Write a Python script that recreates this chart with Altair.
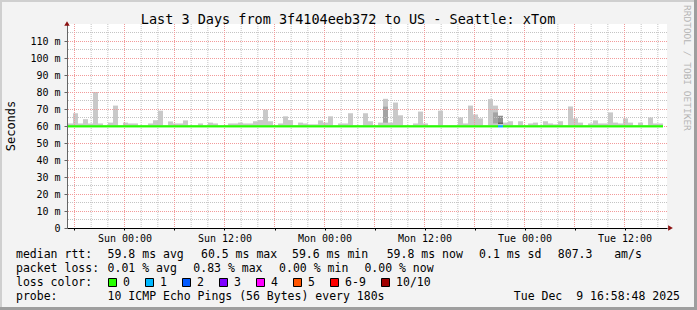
import json
import altair as alt
import pandas as pd

# ------------------------------------------------------------------ data
TITLE = "Last 3 Days from 3f4104eeb372 to US - Seattle: xTom"
Y_TITLE = "Seconds"
WATERMARK = "RRDTOOL / TOBI OETIKER"

X_LABELS = ["Sun 00:00", "Sun 12:00", "Mon 00:00", "Mon 12:00", "Tue 00:00", "Tue 12:00"]
X_TICK_HOURS = [18, 24, 30, 36, 42, 48, 54, 60, 66, 72, 78, 84]   # hours since Sat 00:00
Y_TICKS = [0, 10, 20, 30, 40, 50, 60, 70, 80, 90, 100, 110]        # ms

V_GRID_MINOR = list(range(18, 89, 2))
V_GRID_MAJOR = list(range(18, 89, 6))
H_GRID_MINOR = [5, 15, 25, 35, 45, 55, 65, 75, 85, 95, 105, 115]
H_GRID_MAJOR = [10, 20, 30, 40, 50, 60, 70, 80, 90, 100, 110]

START_HOUR = 17.22      # first 36-minute column (Sat ~17:13)
STEP_HOURS = 0.6

# top of the light smoke (max rtt, ms) of each column, read left to right
SMOKE_TOP = [
    61.5, 67.5, 61.5, 64.0, 61.5, 80.0, 61.5, 60.5, 62.0, 72.0,
    60.5, 62.0, 61.5, 61.5, 60.5, 60.5, 61.5, 63.4, 69.0, 60.5,
    62.7, 61.5, 61.5, 63.3, 60.5, 60.5, 61.5, 60.5, 62.0, 61.5,
    60.5, 60.5, 61.5, 61.5, 62.0, 61.5, 61.5, 62.8, 63.5, 69.6,
    62.8, 60.5, 61.5, 65.7, 63.5, 60.5, 62.0, 61.5, 61.0, 61.0,
    63.3, 62.0, 65.7, 60.5, 61.5, 61.5, 67.5, 60.5, 60.5, 67.5,
    62.8, 60.5, 62.0, 76.0, 62.0, 73.8, 66.3, 60.5, 60.5, 61.5,
    68.5, 61.5, 60.5, 60.5, 69.0, 60.5, 60.5, 60.5, 65.0, 61.5,
    72.0, 66.8, 64.5, 60.5, 75.8, 72.0, 66.0, 62.0, 62.8, 60.5,
    62.8, 60.5, 61.5, 62.0, 60.5, 62.8, 61.5, 61.0, 62.8, 60.5,
    71.5, 64.5, 62.0, 60.5, 61.5, 63.3, 61.5, 61.5, 68.0, 62.0,
    61.5, 64.5, 62.0, 60.5, 62.0, 60.5, 65.0, 61.5, 61.5,
]
SMOKE_MIN = 59.6
MEDIAN_RTT = 59.8       # median line is flat over the whole period

# denser (darker) smoke in a few columns
DARK_BINS = [63, 85, 86, 86]
DARK_LO = [62.0, 61.5, 61.5, 61.4]
DARK_HI = [71.4, 68.0, 66.0, 61.9]
DARK_SHADE = ["#a4a4a4", "#a4a4a4", "#8f8f8f", "#3a3a3a"]

# columns whose median carries packet loss (loss level index)
LOSS_BINS = [86]
LOSS_LEVEL = [1]

LOSS_LABELS = ["0", "1", "2", "3", "4", "5", "6-9", "10/10"]
LOSS_COLORS = ["#26ff00", "#00b8ff", "#0059ff", "#7e00ff", "#ff00ff", "#ff5500", "#ff0000", "#a00000"]

RTT_STATS = ["59.8 ms avg", "60.5 ms max", "59.6 ms min", "59.8 ms now", "0.1 ms sd", "807.3", "am/s"]
LOSS_STATS = ["0.01 % avg", "0.83 % max", "0.00 % min", "0.00 % now"]
ROW_HEADS = ["median rtt:", "packet loss:", "loss color:", "probe:"]
PROBE_TEXT = "10 ICMP Echo Pings (56 Bytes) every 180s"
DATE_TEXT = "Tue Dec  9 16:58:48 2025"

# ------------------------------------------------------------------ layout
W, H = 697, 310
PADL, PADT = 67, 24
PW, PH = 600, 204
MONO = "DejaVu Sans Mono"
NB = "\u00a0"

xs = alt.Scale(domain=[17.1, 89.1], nice=False, zero=False)
ys = alt.Scale(domain=[0, 120], nice=False, zero=False)

x_label_expr = ("datum.value % 12 == 0 ? " + json.dumps(X_LABELS) +
                "[(datum.value - 24) / 12] : ''")
y_label_expr = f"datum.value == 0 ? '0{NB}{NB}' : datum.value + '{NB}m'"

AX_X = alt.Axis(
    values=X_TICK_HOURS, labelExpr=x_label_expr, grid=False, title=None,
    tickSize=2, tickColor="#000000", domainColor="#000000", domainWidth=1,
    labelPadding=3, labelFlush=False, labelOverlap=False,
    labelFont=MONO, labelFontSize=10, labelColor="#000000")
AX_Y = alt.Axis(
    values=Y_TICKS, labelExpr=y_label_expr, grid=False, title=None,
    tickSize=3, tickColor="#666666", domainColor="#666666", domainWidth=1,
    labelPadding=4, labelFlush=False, labelOverlap=False,
    labelFont=MONO, labelFontSize=10, labelColor="#000000")

n = len(SMOKE_TOP)
bins = pd.DataFrame({
    "t0": [START_HOUR + STEP_HOURS * k for k in range(n)],
    "t1": [START_HOUR + STEP_HOURS * (k + 1) for k in range(n)],
    "lo": [SMOKE_MIN] * n,
    "hi": SMOKE_TOP,
})

dark = pd.DataFrame({
    "t0": [START_HOUR + STEP_HOURS * k for k in DARK_BINS],
    "t1": [START_HOUR + STEP_HOURS * (k + 1) for k in DARK_BINS],
    "lo": DARK_LO, "hi": DARK_HI, "c": DARK_SHADE,
})

levels = [0] * n
for b, lv in zip(LOSS_BINS, LOSS_LEVEL):
    levels[b] = lv
median = pd.DataFrame({
    "t0": [START_HOUR + STEP_HOURS * k for k in range(n)],
    "t1": [START_HOUR + STEP_HOURS * (k + 1) for k in range(n)],
    "lo": [MEDIAN_RTT] * n,
    "c": [LOSS_COLORS[lv] for lv in levels],
})

smoke = alt.Chart(bins).mark_rect(color="#c9c9c9").encode(
    x=alt.X("t0:Q", scale=xs, axis=AX_X), x2="t1:Q",
    y=alt.Y("lo:Q", scale=ys, axis=AX_Y), y2="hi:Q",
)

dark_layer = alt.Chart(dark).mark_rect().encode(
    x=alt.X("t0:Q", scale=xs, axis=AX_X), x2="t1:Q",
    y=alt.Y("lo:Q", scale=ys, axis=AX_Y), y2="hi:Q",
    color=alt.Color("c:N", scale=None),
)


def vgrid(vals, color):
    return alt.Chart(pd.DataFrame({"t0": vals})).mark_rule(
        color=color, strokeDash=[1, 1], strokeWidth=1).encode(
        x=alt.X("t0:Q", scale=xs, axis=AX_X))


def hgrid(vals, color, off):
    return alt.Chart(pd.DataFrame({"lo": vals})).mark_rule(
        color=color, strokeDash=[1, 1], strokeWidth=1, yOffset=off).encode(
        y=alt.Y("lo:Q", scale=ys, axis=AX_Y))


GREY = "#c4c4c4"
RED = "#f29a9a"
grid_layers = [
    vgrid([v for v in V_GRID_MINOR if v not in V_GRID_MAJOR], GREY),
    hgrid(H_GRID_MINOR, GREY, 0),
    vgrid(V_GRID_MAJOR, RED),
    hgrid(H_GRID_MAJOR, RED, 0.5),
]

median_layer = alt.Chart(median).mark_rule(strokeWidth=2.2).encode(
    x=alt.X("t0:Q", scale=xs, axis=AX_X), x2="t1:Q",
    y=alt.Y("lo:Q", scale=ys, axis=AX_Y),
    color=alt.Color("c:N", scale=None),
)

DUMMY = alt.Data(values=[{"a": 1}])


def txt(s, x, y, size=11.5, align="left", angle=0, color="#000000", baseline="alphabetic"):
    return alt.Chart(DUMMY).mark_text(
        text=s.replace(" ", NB), font=MONO, fontSize=size, align=align,
        baseline=baseline, angle=angle, color=color).encode(
        x=alt.value(x - PADL), y=alt.value(y - PADT))


def box(x0, y0, x1, y1, fill, stroke=None):
    kw = dict(color=fill)
    if stroke:
        kw = dict(fill=fill, stroke=stroke, strokeWidth=1)
    return alt.Chart(DUMMY).mark_rect(**kw).encode(
        x=alt.value(x0 - PADL), x2=alt.value(x1 - PADL),
        y=alt.value(y0 - PADT), y2=alt.value(y1 - PADT))


deco = []
# arrows at axis ends
deco.append(alt.Chart(DUMMY).mark_point(shape="triangle-up", filled=True, size=30,
                                        color="#8b1010", opacity=1).encode(
    x=alt.value(0), y=alt.value(-0.5)))
deco.append(alt.Chart(DUMMY).mark_point(shape="triangle-right", filled=True, size=30,
                                        color="#8b1010", opacity=1).encode(
    x=alt.value(PW + 3.5), y=alt.value(PH)))

# title, unit title, watermark
deco.append(txt(TITLE, 348, 24, size=13.5, align="center"))
deco.append(txt(Y_TITLE, 11, 126, size=12, align="center", angle=270, baseline="middle"))
deco.append(txt(WATERMARK, 687, 5, size=9.5, align="left", angle=90, color="#b4b4b4",
                baseline="middle"))

# legend rows
ROW_Y = [258, 272, 286, 300]
HEAD_X = 16
for head, ry in zip(ROW_HEADS, ROW_Y):
    deco.append(txt(head, HEAD_X, ry))

RTT_X = [107.6, 201.0, 292.0, 386.7, 479.1, 557.8, 614.2]
for s, x in zip(RTT_STATS, RTT_X):
    deco.append(txt(s, x, ROW_Y[0]))

LOSS_X = [107.6, 193.3, 279.1, 364.4]
for s, x in zip(LOSS_STATS, LOSS_X):
    deco.append(txt(s, x, ROW_Y[1]))

BOX_X = [108.5, 145.5, 182.5, 219.5, 256.5, 293.5, 330.5, 381.5]
for lab, col, bx in zip(LOSS_LABELS, LOSS_COLORS, BOX_X):
    deco.append(box(bx, 278.5, bx + 8, 286.5, col, stroke="#000000"))
    deco.append(txt(lab, bx + 14.6, ROW_Y[2]))

deco.append(txt(PROBE_TEXT, 107.6, ROW_Y[3]))
deco.append(txt(DATE_TEXT, 680, ROW_Y[3], align="right"))

# 3-D frame shading
deco.append(box(0, 0, W, 2, "#cfcfcf"))
deco.append(box(0, 0, 2, H, "#cfcfcf"))
deco.append(box(0, H - 3, W, H, "#9e9e9e"))
deco.append(box(W - 3, 0, W, H, "#9e9e9e"))

chart = alt.layer(smoke, dark_layer, *grid_layers, median_layer, *deco).properties(
    width=PW, height=PH,
    autosize=alt.AutoSizeParams(type="none"),
    padding={"left": PADL, "top": PADT, "right": W - PADL - PW, "bottom": H - PADT - PH},
    background="#f3f3f3",
).configure_view(fill="#ffffff", strokeWidth=0)

chart.save("out.html", embed_options={"renderer": "svg", "actions": False})
